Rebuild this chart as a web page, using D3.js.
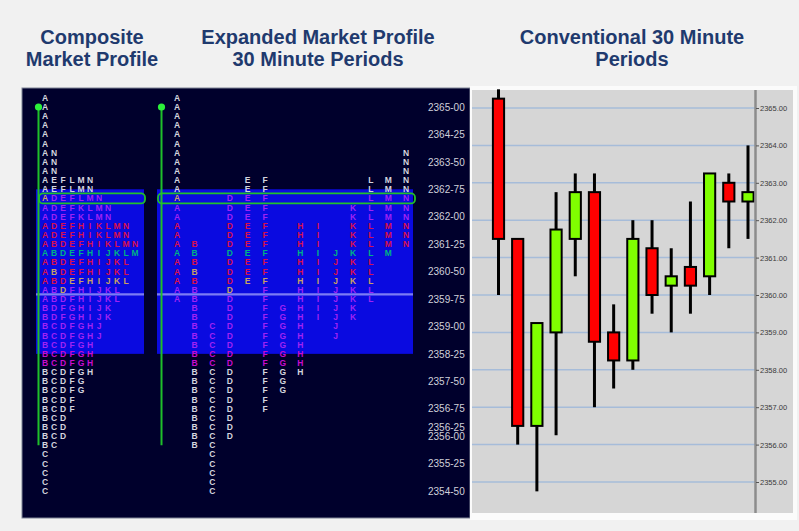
<!DOCTYPE html>
<html>
<head>
<meta charset="utf-8">
<script src="https://cdn.jsdelivr.net/npm/d3@7"></script>
<style>
  body { margin: 0; background: #f1f1f1; }
  svg { display: block; }
  .title { font-family: "Liberation Sans", Arial, sans-serif; font-weight: bold; font-size: 20px; fill: #1f3a6e; text-anchor: middle; }
  .tpo { font-family: "Liberation Sans", Arial, sans-serif; font-weight: bold; font-size: 8.5px; text-anchor: middle; }
</style>
</head>
<body>
<script>
// 30 minute periods
var periods = ["A", "B", "C", "D", "E", "F", "G", "H", "I", "J", "K", "L", "M", "N"];

// high / low of each period in the profile (ticks of 0.25)
var periodHigh = [2365.25, 2361.25, 2359.00, 2362.50, 2363.00, 2363.00, 2359.50, 2361.75, 2361.75, 2361.00, 2362.25, 2363.00, 2363.00, 2363.75];
var periodLow  = [2359.75, 2355.75, 2354.50, 2356.00, 2360.25, 2356.75, 2357.25, 2357.75, 2359.25, 2358.75, 2359.25, 2359.75, 2361.00, 2361.25];

// candlesticks
var candleOpen  = [2365.25, 2361.50, 2356.50, 2359.00, 2361.50, 2362.75, 2359.00, 2358.25, 2361.25, 2360.25, 2360.75, 2360.50, 2363.00, 2362.50];
var candleClose = [2361.50, 2356.50, 2359.25, 2361.75, 2362.75, 2358.75, 2358.25, 2361.50, 2360.00, 2360.50, 2360.25, 2363.25, 2362.50, 2362.75];
var candleHigh  = [2365.50, 2361.50, 2359.25, 2362.75, 2363.25, 2363.25, 2359.75, 2362.00, 2362.00, 2361.25, 2362.50, 2363.25, 2363.25, 2364.00];
var candleLow   = [2360.00, 2356.00, 2354.75, 2356.25, 2360.50, 2357.00, 2357.50, 2358.00, 2359.50, 2359.00, 2359.50, 2360.00, 2361.25, 2361.50];

// price labels on the profile side, ticks on the candle side
var profileLabels = [2365.00, 2364.25, 2363.50, 2362.75, 2362.00, 2361.25, 2360.50, 2359.75, 2359.00, 2358.25, 2357.50, 2356.75, 2356.25, 2356.00, 2355.25, 2354.50];
var candleTicks = [2355, 2356, 2357, 2358, 2359, 2360, 2361, 2362, 2363, 2364, 2365];

// value area, point of control, half-back, open line
var valueHigh = 2362.75, valueLow = 2358.25, poc = 2362.50, halfBack = 2359.875;
var lineTop = 2365.00, lineBottom = 2355.75;

// colour bands of the letters inside the value area
var bandTop    = [2362.50, 2361.75, 2361.00, 2360.75, 2360.00, 2358.25];
var bandBottom = [2362.00, 2361.25, 2361.00, 2360.25, 2358.50, 2358.00];
var bandKind   = ["purple", "red", "teal", "red", "purple", "magenta"];

// single highlighted letters
var markLetter = ["A", "B", "E", "F", "H", "I", "J", "K", "L", "D"];
var markPrice  = [2362.50, 2360.50, 2360.25, 2360.25, 2360.25, 2360.25, 2360.25, 2360.25, 2360.25, 2360.00];

var colours = { white: "#d4d4de", purple: "#a022f4", red: "#d8104c", teal: "#00b284", magenta: "#c80ccc", tan: "#c9a062" };

var width = 799, height = 531;

var svg = d3.select("body").append("svg")
    .attr("width", width)
    .attr("height", height);

// titles
var titles = [
    { x: 92, lines: ["Composite", "Market Profile"] },
    { x: 318, lines: ["Expanded Market Profile", "30 Minute Periods"] },
    { x: 632, lines: ["Conventional 30 Minute", "Periods"] }
];
titles.forEach(function(t) {
    t.lines.forEach(function(s, i) {
        svg.append("text").attr("class", "title")
            .attr("x", t.x).attr("y", 44 + i * 22)
            .text(s);
    });
});

// ---------- profile panel ----------
var yL = d3.scaleLinear().domain([2354.5, 2365]).range([491, 107]);

svg.append("rect")
    .attr("x", 22).attr("y", 88).attr("width", 448).attr("height", 430)
    .attr("fill", "#00002c").attr("stroke", "#7f8496").attr("stroke-width", 1);

var compX = function(i) { return 45 + i * 9; };
var expX = d3.scalePoint().domain(periods).range([177, 406]);

var areas = [{ x0: 36, x1: 144 }, { x0: 157, x1: 413 }];
areas.forEach(function(a) {
    svg.append("rect")
        .attr("x", a.x0).attr("y", yL(valueHigh))
        .attr("width", a.x1 - a.x0).attr("height", yL(valueLow) - yL(valueHigh))
        .attr("fill", "#0a0ae0");
    svg.append("line")
        .attr("x1", a.x0).attr("x2", a.x1)
        .attr("y1", yL(halfBack)).attr("y2", yL(halfBack))
        .attr("stroke", "#7c7cf4").attr("stroke-width", 2.2);
});

// green open lines
[38.5, 161.5].forEach(function(x) {
    svg.append("line")
        .attr("x1", x).attr("x2", x)
        .attr("y1", yL(lineTop)).attr("y2", yL(lineBottom))
        .attr("stroke", "#1fbf2a").attr("stroke-width", 2);
    svg.append("circle")
        .attr("cx", x).attr("cy", yL(lineTop)).attr("r", 3.6)
        .attr("fill", "#2cf03a");
});

function letterColour(letter, price) {
    for (var m = 0; m < markLetter.length; m++) {
        if (markLetter[m] === letter && markPrice[m] === price) return colours.tan;
    }
    for (var b = 0; b < bandTop.length; b++) {
        if (price <= bandTop[b] && price >= bandBottom[b]) return colours[bandKind[b]];
    }
    return colours.white;
}

// rows of the profile
var rows = [];
for (var p = 2365.25; p >= 2354.5; p -= 0.25) rows.push(p);

var tpo = svg.append("g");
rows.forEach(function(price) {
    var present = periods.filter(function(l, i) {
        return price <= periodHigh[i] && price >= periodLow[i];
    });
    // composite: letters packed left
    present.forEach(function(l, i) {
        tpo.append("text").attr("class", "tpo")
            .attr("x", compX(i)).attr("y", yL(price))
            .attr("dy", "0.36em")
            .attr("fill", letterColour(l, price))
            .text(l);
    });
    // expanded: one column per period
    present.forEach(function(l) {
        tpo.append("text").attr("class", "tpo")
            .attr("x", expX(l)).attr("y", yL(price))
            .attr("dy", "0.36em")
            .attr("fill", letterColour(l, price))
            .text(l);
    });
});

// point of control boxes
[{ x0: 39, x1: 145 }, { x0: 158, x1: 415 }].forEach(function(a) {
    svg.append("rect")
        .attr("x", a.x0).attr("y", yL(poc) - 5)
        .attr("width", a.x1 - a.x0).attr("height", 10)
        .attr("rx", 4)
        .attr("fill", "none").attr("stroke", "#22c02a").attr("stroke-width", 1.8);
});

// price labels
var dashFmt = function(d) {
    var whole = Math.floor(d), frac = Math.round((d - whole) * 100);
    return whole + "-" + (frac < 10 ? "0" + frac : frac);
};
var leftAxis = svg.append("g")
    .attr("transform", "translate(425,0)")
    .call(d3.axisRight(yL).tickValues(profileLabels).tickFormat(dashFmt).tickSize(0));
leftAxis.select(".domain").remove();
leftAxis.selectAll("text")
    .attr("fill", "#d0d0da")
    .attr("font-family", "Liberation Sans, Arial, sans-serif")
    .attr("font-size", 10);

// ---------- candlestick panel ----------
var yC = d3.scaleLinear().domain([2355, 2365]).range([482, 108]);
var xC = d3.scalePoint().domain(periods).range([498.5, 748]);

svg.append("rect")
    .attr("x", 470).attr("y", 86).attr("width", 327).attr("height", 434)
    .attr("fill", "#fbfbfb");
svg.append("rect")
    .attr("x", 472).attr("y", 90).attr("width", 321).attr("height", 423)
    .attr("fill", "#d6d6d6");

svg.append("g").selectAll("line")
    .data(candleTicks)
    .enter()
    .append("line")
    .attr("x1", 472).attr("x2", 755)
    .attr("y1", function(d) { return yC(d); })
    .attr("y2", function(d) { return yC(d); })
    .attr("stroke", "#a6bcd9").attr("stroke-width", 1.5);

var candles = svg.append("g").selectAll("g")
    .data(periods)
    .enter()
    .append("g");

candles.append("line")
    .attr("x1", function(d) { return xC(d); })
    .attr("x2", function(d) { return xC(d); })
    .attr("y1", function(d, i) { return yC(candleHigh[i]); })
    .attr("y2", function(d, i) { return yC(candleLow[i]); })
    .attr("stroke", "#000").attr("stroke-width", 3);

candles.append("rect")
    .attr("x", function(d) { return xC(d) - 5.6; })
    .attr("width", 11.2)
    .attr("y", function(d, i) { return yC(Math.max(candleOpen[i], candleClose[i])); })
    .attr("height", function(d, i) { return Math.abs(yC(candleOpen[i]) - yC(candleClose[i])); })
    .attr("fill", function(d, i) { return candleClose[i] >= candleOpen[i] ? "#80ff00" : "#ff0000"; })
    .attr("stroke", "#000").attr("stroke-width", 2);

svg.append("line")
    .attr("x1", 755.5).attr("x2", 755.5)
    .attr("y1", 90).attr("y2", 513)
    .attr("stroke", "#8c8c8c").attr("stroke-width", 2.5);

var rightAxis = svg.append("g")
    .attr("transform", "translate(756,0)")
    .call(d3.axisRight(yC).tickValues(candleTicks).tickFormat(d3.format(".2f")).tickSize(3).tickPadding(1));
rightAxis.select(".domain").remove();
rightAxis.selectAll("line").attr("stroke", "#555");
rightAxis.selectAll("text")
    .attr("fill", "#3a3a3a")
    .attr("font-family", "Liberation Sans, Arial, sans-serif")
    .attr("font-size", 7.5);
</script>
</body>
</html>
